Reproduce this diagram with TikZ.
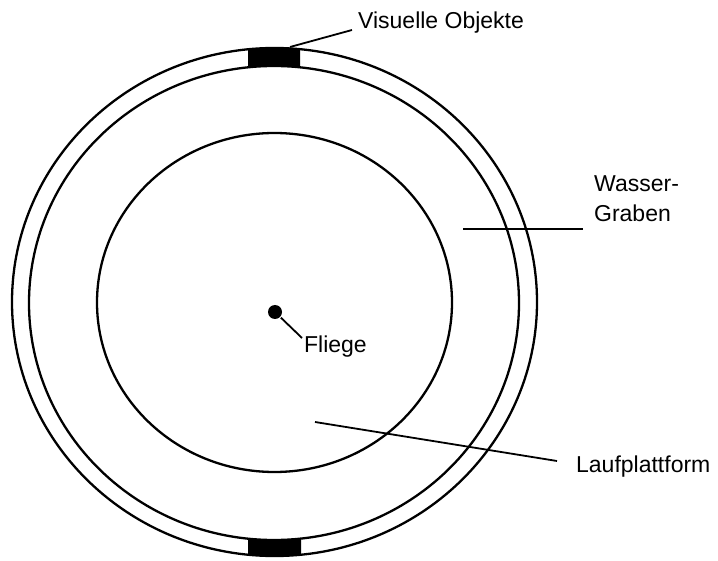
\documentclass[tikz,border=0pt]{standalone}
\usepackage{fontspec}
\setmainfont{Liberation Sans}
\begin{document}
\begin{tikzpicture}[x=1pt, y=-1pt, line width=2.3pt,
    lbl/.style={anchor=base west, inner sep=0pt, font=\fontsize{23}{26}\selectfont},
    lead/.style={line width=1.8pt}]
  \useasboundingbox (0,0) rectangle (718,561);
  % rings
  \draw (274.5,302) ellipse [x radius=262.5, y radius=254];
  \draw (274,303) ellipse [x radius=245, y radius=237];
  \draw (274.5,302.5) ellipse [x radius=177.5, y radius=169.5];
  % visual objects between the rings
  \begin{scope}
    \clip (248,0) rectangle (300,80) (248,520) rectangle (301,561);
    \fill[even odd rule] (274.5,302) ellipse [x radius=262.5, y radius=254]
      (274,303) ellipse [x radius=245, y radius=237];
  \end{scope}
  \node[circle, fill, inner sep=0pt, minimum size=14pt] (fly) at (275,312) {};
  \node[lbl] (objekte) at (357,29) {Visuelle Objekte};
  \node[lbl, align=left] (graben) at (593,222) {Wasser-\\[4pt]Graben};
  \node[lbl] (fliege) at (303,353) {Fliege};
  \node[lbl] (platt) at (575,472) {Laufplattform};
  \coordinate (objA) at (290,47);
  \coordinate (objB) at (352,30);
  \coordinate (grA) at (463,229);
  \coordinate (grB) at (583,229);
  \coordinate (flB) at (302,338);
  \coordinate (plA) at (315,422);
  \coordinate (plB) at (557,461);
  \draw[lead] (objA) -- (objB);
  \draw[lead] (grA) -- (grB);
  \draw[lead] (fly) -- (flB);
  \draw[lead] (plA) -- (plB);
\end{tikzpicture}
\end{document}
